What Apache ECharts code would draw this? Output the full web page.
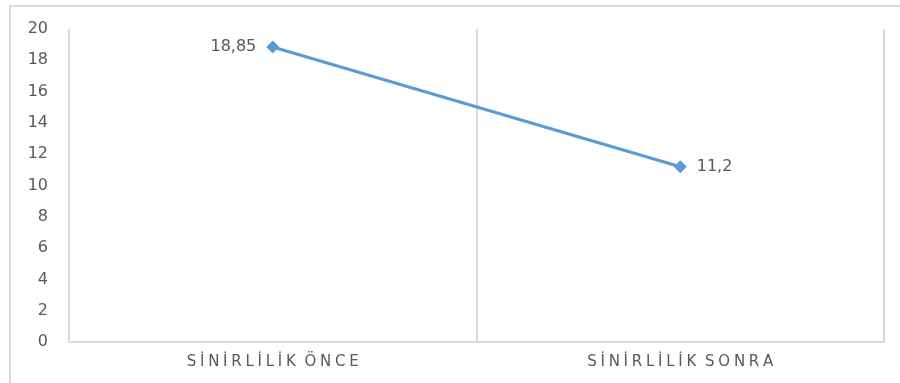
<!DOCTYPE html>
<html>
<head>
<meta charset="utf-8">
<script src="https://cdn.jsdelivr.net/npm/echarts@6/dist/echarts.min.js"></script>
<style>
  html, body { margin: 0; padding: 0; background: #fff; }
  #frame { position: absolute; left: 9px; top: 5px; width: 900px; height: 400px; border: 2px solid #d9d9d9; box-sizing: border-box; }
  #chart { position: absolute; left: 0; top: 0; width: 900px; height: 383px; }
</style>
</head>
<body>
<div id="frame"></div>
<div id="chart"></div>
<script>
// Categories, values and y-axis ticks
const categories = ['SİNİRLİLİK ÖNCE', 'SİNİRLİLİK SONRA'];
const values = [18.85, 11.2];
const yTicks = [0, 2, 4, 6, 8, 10, 12, 14, 16, 18, 20];

// Spread letters apart, keeping a slightly wider gap between words
function spaced(s) {
  return s.split(' ').map(w => w.split('').join('\u2005')).join('\u2004\u2005');
}

const chart = echarts.init(document.getElementById('chart'), null, { renderer: 'canvas' });
chart.setOption({
  animation: false,
  textStyle: { fontFamily: '"DejaVu Sans", sans-serif' },
  grid: { left: 69, right: 16, top: 29, bottom: 41 },
  xAxis: {
    type: 'category',
    data: categories,
    boundaryGap: true,
    axisLine: { show: true, lineStyle: { color: '#d9d9d9', width: 2 } },
    axisTick: { show: false },
    splitLine: { show: true, interval: 0, lineStyle: { color: '#d9d9d9', width: 2 } },
    axisLabel: {
      color: '#595959', fontSize: 15, margin: 13,
      formatter: v => spaced(v)
    }
  },
  yAxis: {
    type: 'value',
    min: yTicks[0],
    max: yTicks[yTicks.length - 1],
    interval: 2,
    axisLine: { show: false },
    axisTick: { show: false },
    splitLine: { show: false },
    axisLabel: { color: '#595959', fontSize: 16, margin: 21 }
  },
  series: [{
    type: 'line',
    symbol: 'diamond',
    symbolSize: 13,
    lineStyle: { color: '#5b9bd5', width: 3 },
    itemStyle: { color: '#5b9bd5' },
    label: {
      show: true,
      color: '#595959',
      fontSize: 16,
      distance: 10,
      formatter: p => String(p.value).replace('.', ',')
    },
    data: [
      { value: values[0], label: { position: 'left' } },
      { value: values[1], label: { position: 'right' } }
    ]
  }]
});
</script>
</body>
</html>
